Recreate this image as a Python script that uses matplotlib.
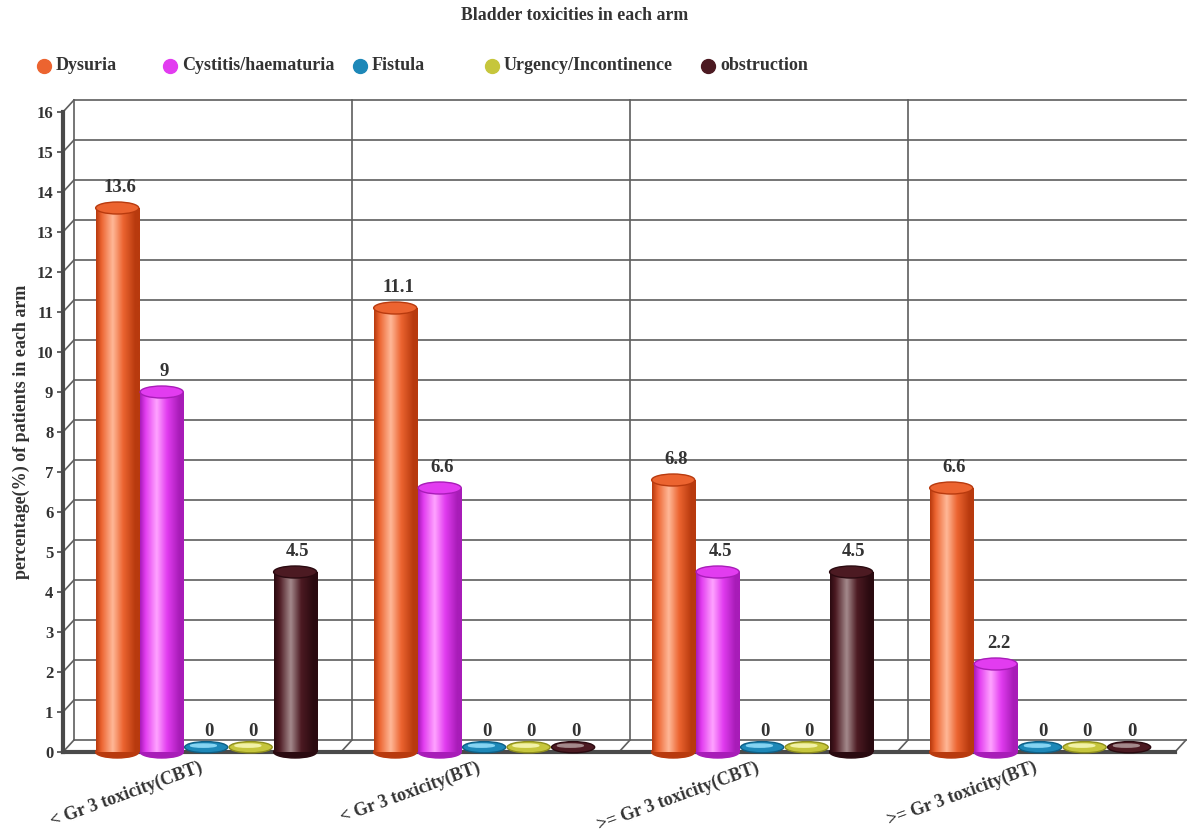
import numpy as np
import matplotlib.pyplot as plt
from matplotlib.colors import LinearSegmentedColormap
from matplotlib.patches import Ellipse
from matplotlib.lines import Line2D

# ---- data ----
groups = ["< Gr 3 toxicity(CBT)", "< Gr 3 toxicity(BT)",
          ">= Gr 3 toxicity(CBT)", ">= Gr 3 toxicity(BT)"]
series = ["Dysuria", "Cystitis/haematuria", "Fistula",
          "Urgency/Incontinence", "obstruction"]
dysuria = [13.6, 11.1, 6.8, 6.6]
cystitis = [9, 6.6, 4.5, 2.2]
fistula = [0, 0, 0, 0]
urgency = [0, 0, 0, 0]
obstruction = [4.5, 0, 4.5, 0]
values = [dysuria, cystitis, fistula, urgency, obstruction]

# dark edge, body, highlight for each cylinder
palettes = [("#B83A0E", "#EC6430", "#FFB898"),
            ("#A81CB8", "#E23CF0", "#FFA4FF"),
            ("#0E5F85", "#1D88B8", "#86D4F2"),
            ("#8E8E1C", "#C6C63C", "#F2F2A8"),
            ("#2A0A10", "#4C1A22", "#A48A8C")]

serif = "Liberation Serif"
plt.rcParams["font.family"] = [serif, "DejaVu Serif"]
plt.rcParams["font.weight"] = "bold"
txt_color = "#333333"

fig = plt.figure(figsize=(11.88, 8.33), dpi=100)
ax = fig.add_axes([63 / 1188, 81 / 833, 1112 / 1188, 640 / 833])
ax.set_xlim(0, 4)
ax.set_ylim(0, 16)
for s in ["top", "right", "bottom"]:
    ax.spines[s].set_visible(False)
ax.spines["left"].set_linewidth(3)
ax.spines["left"].set_color("#4a4a4a")
ax.set_xticks([])
ax.set_yticks(range(17))
ax.tick_params(axis="y", length=4, width=1.2, color="#4a4a4a", labelsize=12,
               pad=3)
for lb in ax.get_yticklabels():
    lb.set_fontweight("bold")
    lb.set_color(txt_color)

# depth of the pseudo-3D box, in data units
fig.canvas.draw()
p0 = ax.transData.transform((0, 0))
p1 = ax.transData.transform((1, 1))
dx = 11 / (p1[0] - p0[0])
dy = 12 / (p1[1] - p0[1])

grid_kw = dict(color="#5e5e5e", lw=1.2, clip_on=False, zorder=1)
for v in range(17):
    ax.plot([dx, 4 + dx], [v + dy, v + dy], **grid_kw)
    ax.plot([0, dx], [v, v + dy], **grid_kw)
ax.plot([dx, dx], [dy, 16 + dy], **grid_kw)
for k in range(1, 4):
    ax.plot([k + dx, k + dx], [dy, 16 + dy], **grid_kw)
    ax.plot([k, k + dx], [0, dy], **grid_kw)
ax.plot([4, 4 + dx], [0, dy], **grid_kw)
ax.plot([0, 4], [0, 0], color="#4a4a4a", lw=3, clip_on=False, zorder=2)

# ---- cylinders ----
width = 0.155
offsets = [0.195, 0.355, 0.515, 0.675, 0.835]
grad = np.linspace(0, 1, 96).reshape(1, -1)
cap_h = 0.3

for j, (vals, (dark, body, light)) in enumerate(zip(values, palettes)):
    cmap = LinearSegmentedColormap.from_list(
        series[j], [(0, dark), (0.12, body), (0.38, light),
                    (0.62, body), (0.9, dark), (1, dark)])
    for i, v in enumerate(vals):
        x = i + offsets[j]
        x0, x1 = x - width / 2, x + width / 2
        if v > 0:
            ax.add_patch(Ellipse((x, 0), width, cap_h, color=dark,
                                 clip_on=False, zorder=3))
            ax.imshow(grad, extent=[x0, x1, 0, v], aspect="auto", cmap=cmap,
                      interpolation="bicubic", zorder=4)
            ax.add_patch(Ellipse((x, v), width, cap_h, facecolor=body,
                                 edgecolor=dark, lw=1, zorder=5))
        else:
            ax.add_patch(Ellipse((x, 0.12), width, 0.28, facecolor=body,
                                 edgecolor=dark, lw=1, clip_on=False,
                                 zorder=3))
            ax.add_patch(Ellipse((x - 0.01, 0.16), width * 0.6, 0.08,
                                 color=light, clip_on=False, zorder=3))
        ax.annotate(f"{v:g}", (x, v), xytext=(2, 9), textcoords="offset points",
                    ha="center", va="bottom", fontsize=13.5, fontweight="bold",
                    color=txt_color, zorder=6)

ax.set_xlim(0, 4)
ax.set_ylim(0, 16)

# group labels under the floor
for i, g in enumerate(groups):
    ax.annotate(g, (i + 0.5, 0), xytext=(0, -11), textcoords="offset points",
                rotation=20, rotation_mode="anchor", ha="right", va="center",
                fontsize=13, fontweight="bold", color=txt_color)

ax.set_ylabel("percentage(%) of patients in each arm", fontsize=13,
              fontweight="bold", color=txt_color, labelpad=5)

fig.text(575 / 1188, 1 - 15 / 833, "Bladder toxicities in each arm",
         ha="center", va="center", fontsize=12.8, fontweight="bold",
         color=txt_color)

# legend row
marker_x = [44, 170, 360, 492, 708]
for mx, name, (dark, body, light) in zip(marker_x, series, palettes):
    fig.add_artist(Line2D([mx / 1188], [1 - 66 / 833], marker="o",
                          markersize=10, markerfacecolor=body,
                          markeredgecolor=body, transform=fig.transFigure))
    fig.text((mx + 12) / 1188, 1 - 66 / 833, name, ha="left", va="center",
             fontsize=13, fontweight="bold", color=txt_color)

fig.savefig("out.png", dpi=100, facecolor="white")
